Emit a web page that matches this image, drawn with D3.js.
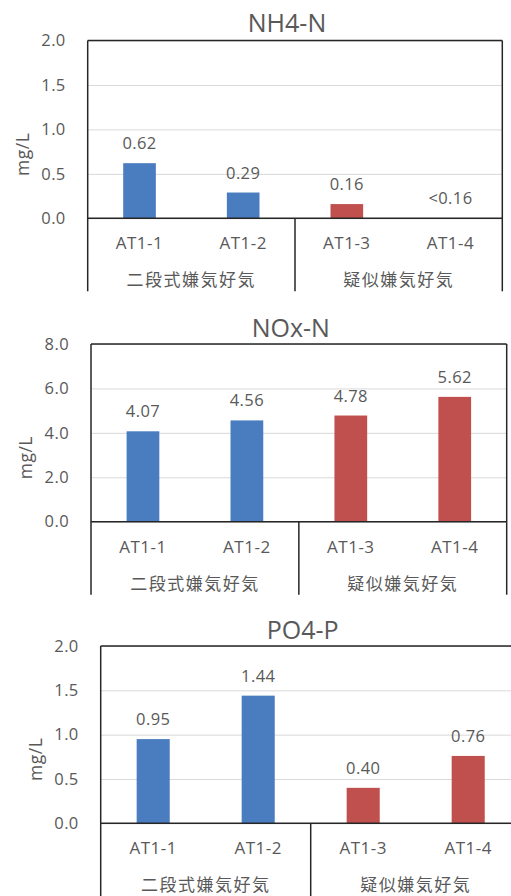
<!DOCTYPE html>
<html>
<head>
<meta charset="utf-8">
<script src="https://cdn.jsdelivr.net/npm/d3@7"></script>
<style>
  html, body { margin: 0; padding: 0; background: #fff; }
  svg { display: block; }
  text { font-family: "Open Sans", "Noto Sans", sans-serif; fill: #595959; }
  .cjk { font-family: "Noto Sans CJK JP", sans-serif; }
</style>
</head>
<body>
<svg id="chart" width="511" height="896"></svg>
<script>
// Sampling points and treatment groups
const categories = ["AT1-1", "AT1-2", "AT1-3", "AT1-4"];
const groups = ["二段式嫌気好気", "疑似嫌気好気"];
const groupOfCategory = [0, 0, 1, 1];

// NH4-N (mg/L); AT1-4 is below the detection limit
const nh4Values = [0.62, 0.29, 0.16, 0];
const nh4Labels = ["0.62", "0.29", "0.16", "<0.16"];
const nh4Ticks = [0, 0.5, 1.0, 1.5, 2.0];

// NOx-N (mg/L)
const noxValues = [4.07, 4.56, 4.78, 5.62];
const noxLabels = ["4.07", "4.56", "4.78", "5.62"];
const noxTicks = [0, 2, 4, 6, 8];

// PO4-P (mg/L)
const po4Values = [0.95, 1.44, 0.40, 0.76];
const po4Labels = ["0.95", "1.44", "0.40", "0.76"];
const po4Ticks = [0, 0.5, 1.0, 1.5, 2.0];

const groupColors = ["#4a7dbf", "#c0504d"];
const unitLabel = "mg/L";

const svg = d3.select("#chart");

function drawPanel(opt) {
  const { title, values, labels, ticks, left, right, top, height } = opt;
  const bottom = top + height;
  const g = svg.append("g");

  const x = d3.scaleBand().domain(categories).range([left, right]);
  const y = d3.scaleLinear().domain([ticks[0], ticks[ticks.length - 1]]).range([bottom, top]);

  // horizontal gridlines
  g.append("g")
    .attr("transform", `translate(${left},0)`)
    .call(d3.axisLeft(y).tickValues(ticks).tickSize(-(right - left)).tickFormat(""))
    .call(s => s.select(".domain").remove())
    .call(s => s.selectAll(".tick line").attr("stroke", "#d9d9d9").attr("stroke-width", 1));

  // y tick labels
  g.append("g")
    .attr("transform", `translate(${left - 22},0)`)
    .call(d3.axisLeft(y).tickValues(ticks).tickSize(0).tickPadding(0).tickFormat(d3.format(".1f")))
    .call(s => s.select(".domain").remove())
    .call(s => s.selectAll(".tick text")
      .attr("font-size", 16.5).attr("fill", "#595959").attr("letter-spacing", 0.4)
      .style("font-family", '"Open Sans", sans-serif'));

  // bars
  const barW = x.bandwidth() * 0.315;
  g.selectAll("rect.bar")
    .data(categories.map((c, i) => ({ c, v: values[i], grp: groupOfCategory[i] })))
    .join("rect")
    .attr("class", "bar")
    .attr("x", d => x(d.c) + (x.bandwidth() - barW) / 2)
    .attr("width", barW)
    .attr("y", d => y(d.v))
    .attr("height", d => bottom - y(d.v))
    .attr("fill", d => groupColors[d.grp]);

  // value labels
  g.selectAll("text.val")
    .data(categories.map((c, i) => ({ c, v: values[i], t: labels[i] })))
    .join("text")
    .attr("class", "val")
    .attr("x", d => x(d.c) + x.bandwidth() / 2)
    .attr("y", d => y(d.v) - 14)
    .attr("text-anchor", "middle")
    .attr("font-size", 16.5)
    .attr("letter-spacing", 0.4)
    .text(d => d.t);

  // frame
  const ext = bottom + 73;
  const line = (x1, y1, x2, y2) => g.append("line")
    .attr("x1", x1).attr("y1", y1).attr("x2", x2).attr("y2", y2)
    .attr("stroke", "#262626").attr("stroke-width", 1.5);
  line(left, top, right, top);
  line(left, bottom, right, bottom);
  line(left, top, left, ext);
  line(right, top, right, ext);
  const mid = x(categories[2]);
  line(mid, bottom, mid, ext);

  // category labels
  g.selectAll("text.cat")
    .data(categories)
    .join("text")
    .attr("class", "cat")
    .attr("x", d => x(d) + x.bandwidth() / 2)
    .attr("y", bottom + 31)
    .attr("text-anchor", "middle")
    .attr("font-size", 17)
    .attr("letter-spacing", 0.5)
    .text(d => d);

  // group labels
  groups.forEach((name, gi) => {
    const members = categories.filter((c, i) => groupOfCategory[i] === gi);
    const x0 = x(members[0]);
    const x1 = x(members[members.length - 1]) + x.bandwidth();
    g.append("text")
      .attr("class", "cjk")
      .attr("x", (x0 + x1) / 2)
      .attr("y", bottom + 68)
      .attr("text-anchor", "middle")
      .attr("font-size", 17)
      .attr("letter-spacing", 1.5)
      .text(name);
  });

  // axis title
  g.append("text")
    .attr("transform", `translate(${left - 59},${bottom - 64}) rotate(-90)`)
    .attr("text-anchor", "middle")
    .attr("font-size", 17.5)
    .attr("letter-spacing", 0.5)
    .text(unitLabel);

  // chart title
  g.append("text")
    .attr("x", (left + right) / 2 - 8)
    .attr("y", opt.titleY)
    .attr("text-anchor", "middle")
    .attr("font-size", 25)
    .text(title);
}

drawPanel({ title: "NH4-N", values: nh4Values, labels: nh4Labels, ticks: nh4Ticks,
  left: 87.7, right: 502.3, top: 40.5, height: 177.8, titleY: 31.5 });
drawPanel({ title: "NOx-N", values: noxValues, labels: noxLabels, ticks: noxTicks,
  left: 91, right: 506.7, top: 344, height: 177.7, titleY: 336.5 });
drawPanel({ title: "PO4-P", values: po4Values, labels: po4Labels, ticks: po4Ticks,
  left: 100.7, right: 520.7, top: 646, height: 177.3, titleY: 639 });
</script>
</body>
</html>
